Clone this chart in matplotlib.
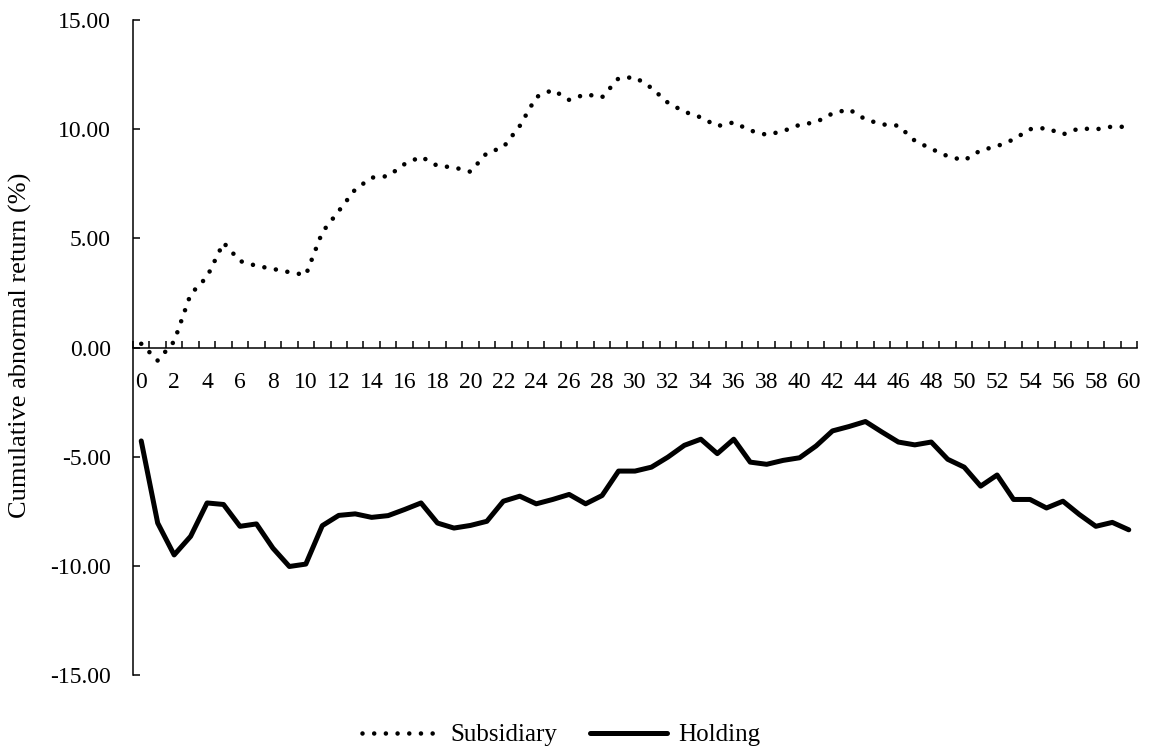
import matplotlib
matplotlib.use("Agg")
import matplotlib.pyplot as plt
import numpy as np

plt.rcParams['font.family'] = ['Liberation Serif', 'DejaVu Serif']
plt.rcParams['axes.unicode_minus'] = False

days = list(range(0, 61))
subsidiary = [0.17, -0.60, 0.28, 2.44, 3.24, 4.80, 3.96, 3.74, 3.60, 3.45,
              3.32, 5.28, 6.25, 7.24, 7.78, 7.85, 8.40, 8.74, 8.32, 8.25,
              8.05, 8.91, 9.17, 10.15, 11.47, 11.80, 11.34, 11.60, 11.46, 12.33,
              12.38, 11.89, 11.21, 10.80, 10.54, 10.14, 10.31, 9.94, 9.74, 9.91,
              10.20, 10.32, 10.72, 10.91, 10.45, 10.22, 10.16, 9.47, 9.10, 8.76,
              8.57, 9.03, 9.22, 9.53, 10.00, 10.05, 9.76, 10.04, 9.99, 10.12,
              10.10]
holding = [-4.28, -8.04, -9.50, -8.65, -7.12, -7.19, -8.19, -8.08, -9.19, -10.03,
           -9.92, -8.16, -7.69, -7.62, -7.78, -7.70, -7.42, -7.12, -8.04, -8.27,
           -8.15, -7.96, -7.04, -6.81, -7.16, -6.96, -6.73, -7.16, -6.78, -5.66,
           -5.66, -5.48, -5.02, -4.48, -4.20, -4.86, -4.20, -5.25, -5.35, -5.17,
           -5.05, -4.51, -3.82, -3.62, -3.39, -3.87, -4.33, -4.46, -4.33, -5.12,
           -5.48, -6.35, -5.84, -6.96, -6.96, -7.35, -7.04, -7.65, -8.19, -8.01,
           -8.35]
y_ticks = [-15, -10, -5, 0, 5, 10, 15]
x_labels = list(range(0, 61, 2))
ylabel = "Cumulative abnormal return (%)"

fig = plt.figure(figsize=(11.5, 7.52), dpi=100)
ax = fig.add_axes([133/1150, 1-675/752, (1137-133)/1150, (675-20)/752])

ax.plot(days, subsidiary, color='black', lw=3.3, linestyle=(0, (0.001, 2.55)),
        dash_capstyle='round', solid_capstyle='round', label='Subsidiary')
ax.plot(days, holding, color='black', lw=3.6, solid_joinstyle='round',
        solid_capstyle='round', label='Holding')

ax.set_xlim(-0.5, 60.5)
ax.set_ylim(-15, 15)
ax.spines['top'].set_visible(False)
ax.spines['right'].set_visible(False)
ax.spines['bottom'].set_position(('data', 0))
ax.spines['left'].set_linewidth(1.1)
ax.spines['bottom'].set_linewidth(1.1)

ax.set_yticks(y_ticks)
ax.set_yticklabels([f"{v:.2f}" for v in y_ticks])
ax.tick_params(axis='y', direction='in', length=5, width=1.1, labelsize=17, pad=16)

ax.set_xticks(x_labels)
ax.set_xticklabels([str(v) for v in x_labels])
ax.set_xticks(np.arange(-0.5, 61, 1.0), minor=True)
ax.tick_params(axis='x', which='major', length=0, labelsize=17, pad=18)
ax.tick_params(axis='x', which='minor', direction='in', length=5, width=1.1)

fig.text(20/1150, 1-345/752, ylabel, rotation=90, ha='center', va='center', fontsize=19)

leg = fig.legend(loc='center', bbox_to_anchor=(561/1150, 1-735/752), ncol=2,
                 frameon=False, fontsize=18, handlelength=3.1, columnspacing=1.3,
                 handletextpad=0.45)

fig.savefig("out.png", dpi=100)
